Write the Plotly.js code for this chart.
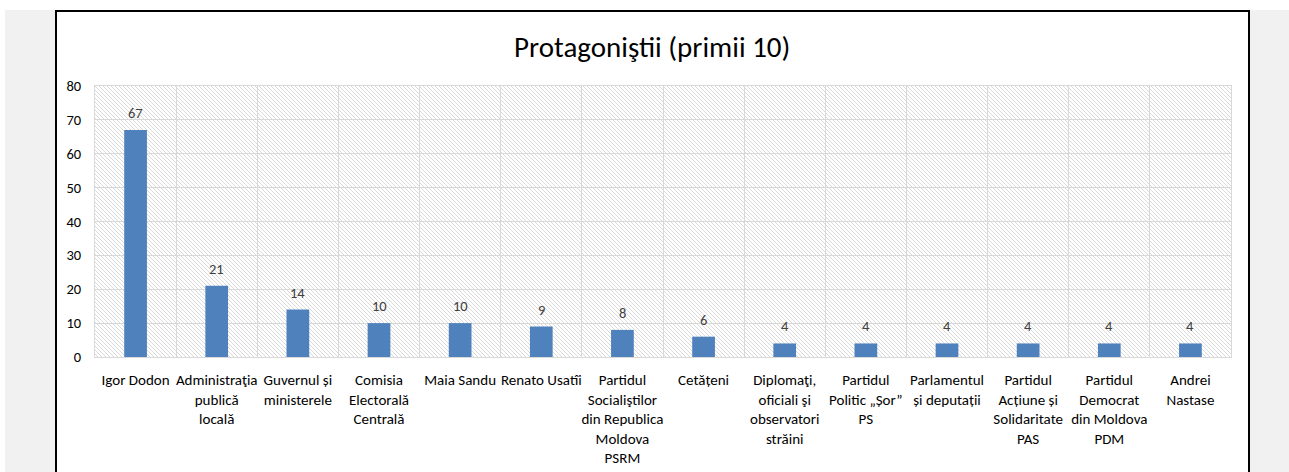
<!DOCTYPE html>
<html>
<head>
<meta charset="utf-8">
<script src="https://cdn.plot.ly/plotly-3.0.1.min.js"></script>
<style>
  html, body { margin: 0; padding: 0; background: #ffffff; }
  #wrap { position: relative; width: 1289px; height: 472px; overflow: hidden; }
  #side { position: absolute; left: 5px; top: 10px; width: 1284px; height: 470px; background: #f1f1f1; }
  #box { position: absolute; left: 55px; top: 10px; width: 1191px; height: 480px; background: #ffffff; border: 2px solid #000000; }
  #chart { position: absolute; left: 0; top: 0; width: 1289px; height: 472px; }
</style>
</head>
<body>
<div id="wrap">
  <div id="side"></div>
  <div id="box"></div>
  <div id="chart"></div>
</div>
<script>
var categories = [
  'Igor Dodon',
  'Administraţia<br>publică<br>locală',
  'Guvernul și<br>ministerele',
  'Comisia<br>Electorală<br>Centrală',
  'Maia Sandu',
  'Renato Usatîi',
  'Partidul<br>Socialiştilor<br>din Republica<br>Moldova<br>PSRM',
  'Cetățeni',
  'Diplomaţi,<br>oficiali şi<br>observatori<br>străini',
  'Partidul<br>Politic „Șor”<br>PS',
  'Parlamentul<br>și deputații',
  'Partidul<br>Acțiune și<br>Solidaritate<br>PAS',
  'Partidul<br>Democrat<br>din Moldova<br>PDM',
  'Andrei<br>Nastase'
];
var values = [67, 21, 14, 10, 10, 9, 8, 6, 4, 4, 4, 4, 4, 4];
var yTicks = [0, 10, 20, 30, 40, 50, 60, 70, 80];

var fontFam = 'Carlito, Calibri, "Open Sans", "Noto Sans", sans-serif';

// hatched plot background
var hatch = "<svg xmlns='http://www.w3.org/2000/svg' width='1136' height='271'>" +
  "<defs><pattern id='h' width='4' height='4' patternUnits='userSpaceOnUse'>" +
  "<path d='M-1,-1 L5,5 M-1,3 L1,5 M3,-1 L5,1' stroke='#dadada' stroke-width='1'/></pattern></defs>" +
  "<rect width='1136' height='271' fill='#ffffff'/><rect width='1136' height='271' fill='url(#h)'/></svg>";

var data = [{
  type: 'bar',
  x: categories,
  y: values,
  width: 0.28,
  marker: { color: '#4f81bd' },
  hoverinfo: 'x+y'
}];

var annotations = values.map(function (v, i) {
  return {
    x: categories[i], y: v,
    xref: 'x', yref: 'y',
    text: String(v),
    showarrow: false,
    yanchor: 'bottom',
    yshift: 6,
    font: { family: fontFam, size: 14.5, color: '#404040' }
  };
});

var layout = {
  width: 1289,
  height: 472,
  paper_bgcolor: 'rgba(0,0,0,0)',
  plot_bgcolor: 'rgba(0,0,0,0)',
  margin: { l: 95, r: 58, t: 86, b: 115 },
  showlegend: false,
  title: {
    text: 'Protagoniştii (primii 10)',
    x: 0.506, xanchor: 'center',
    y: 0.9, yanchor: 'middle',
    font: { family: fontFam, size: 29, color: '#000000' }
  },
  xaxis: {
    type: 'category',
    tickson: 'boundaries',
    showgrid: true,
    gridcolor: '#d9d9d9',
    gridwidth: 1,
    showline: true,
    linecolor: '#d9d9d9',
    mirror: true,
    ticks: '',
    ticklabelstandoff: 9,
    tickangle: 0,
    tickfont: { family: fontFam, size: 15, color: '#000000' },
    range: [-0.5, 13.5],
    automargin: false
  },
  yaxis: {
    range: [0, 80],
    tickvals: yTicks,
    showgrid: true,
    gridcolor: '#d9d9d9',
    zeroline: false,
    showline: true,
    linecolor: '#d9d9d9',
    mirror: true,
    ticks: 'outside',
    ticklen: 10,
    tickcolor: 'rgba(0,0,0,0)',
    tickfont: { family: fontFam, size: 14.5, color: '#000000' },
    automargin: false
  },
  images: [{
    source: 'data:image/svg+xml;charset=utf-8,' + encodeURIComponent(hatch),
    xref: 'paper', yref: 'paper',
    x: 0, y: 1, sizex: 1, sizey: 1,
    xanchor: 'left', yanchor: 'top',
    sizing: 'stretch',
    layer: 'below'
  }],
  annotations: annotations
};

Plotly.newPlot('chart', data, layout, { displayModeBar: false, staticPlot: true });
</script>
</body>
</html>
